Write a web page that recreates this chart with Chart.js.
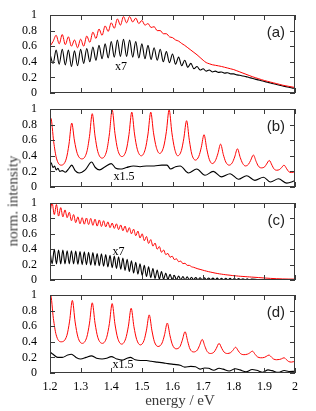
<!DOCTYPE html>
<html>
<head>
<meta charset="utf-8">
<script src="https://cdn.jsdelivr.net/npm/chart.js@4.4.1/dist/chart.umd.min.js"></script>
<style>
    html, body { margin: 0; padding: 0; background: #fff; }
    #figure { position: relative; width: 316px; height: 411px; overflow: hidden; }
    #figure canvas { position: absolute; left: 0; }
    .axis-title {
        position: absolute; font: 400 15px 'Liberation Serif', serif; color: #3a3a3a; white-space: nowrap;
    }
    #y-title { left: 13px; top: 201px; transform: translate(-50%, -50%) rotate(-90deg); }
    #x-title { left: 180px; top: 400px; transform: translate(-50%, -50%); }
</style>
</head>
<body>
<div id="figure">
    <canvas id="panel-a" width="316" height="103" style="top:0px"></canvas>
    <canvas id="panel-b" width="316" height="98" style="top:99px"></canvas>
    <canvas id="panel-c" width="316" height="97" style="top:193px"></canvas>
    <canvas id="panel-d" width="316" height="126" style="top:285px"></canvas>
    <div id="y-title" class="axis-title">norm. intensity</div>
    <div id="x-title" class="axis-title">energy / eV</div>
</div>
<script>
// ====== DATA ======
// panel (a)
const aEnergy = [
    1.20, 1.21, 1.22, 1.23, 1.24, 1.25, 1.26, 1.27, 1.28, 1.29,
    1.30, 1.31, 1.32, 1.33, 1.34, 1.35, 1.36, 1.37, 1.38, 1.39,
    1.40, 1.41, 1.42, 1.43, 1.44, 1.45, 1.46, 1.47, 1.48, 1.49,
    1.50, 1.51, 1.52, 1.53, 1.54, 1.55, 1.56, 1.57, 1.58, 1.59,
    1.60, 1.61, 1.62, 1.63, 1.64, 1.65, 1.66, 1.67, 1.68, 1.69,
    1.70, 1.71, 1.72, 1.73, 1.74, 1.75, 1.76, 1.77, 1.78, 1.79,
    1.80, 1.81, 1.82, 1.83, 1.84, 1.85, 1.86, 1.87, 1.88, 1.89,
    1.90, 1.91, 1.92, 1.93, 1.94, 1.95, 1.96, 1.97, 1.98, 1.99,
    2.00
];
const aRed = [
    0.60, 0.66, 0.74, 0.63, 0.75, 0.62, 0.72, 0.60, 0.68, 0.58,
    0.69, 0.60, 0.73, 0.65, 0.78, 0.70, 0.82, 0.74, 0.86, 0.79,
    0.90, 0.83, 0.95, 0.87, 0.98, 0.90, 0.98, 0.91, 0.96, 0.89,
    0.93, 0.87, 0.89, 0.84, 0.85, 0.80, 0.80, 0.76, 0.76, 0.72,
    0.71, 0.68, 0.665, 0.635, 0.61, 0.58, 0.55, 0.52, 0.49, 0.455,
    0.42, 0.39, 0.375, 0.362, 0.355, 0.348, 0.34, 0.33, 0.32, 0.31,
    0.30, 0.285, 0.27, 0.255, 0.24, 0.225, 0.21, 0.197, 0.185, 0.172,
    0.16, 0.15, 0.14, 0.13, 0.12, 0.11, 0.10, 0.092, 0.085, 0.078,
    0.07
];
const aBlack = [
    0.50, 0.38, 0.55, 0.37, 0.56, 0.36, 0.55, 0.34, 0.54, 0.35,
    0.56, 0.38, 0.57, 0.40, 0.59, 0.42, 0.61, 0.44, 0.63, 0.45,
    0.66, 0.46, 0.68, 0.47, 0.69, 0.47, 0.68, 0.46, 0.66, 0.45,
    0.63, 0.44, 0.61, 0.43, 0.58, 0.42, 0.56, 0.40, 0.53, 0.39,
    0.50, 0.37, 0.46, 0.35, 0.42, 0.33, 0.38, 0.31, 0.34, 0.295,
    0.31, 0.28, 0.295, 0.27, 0.28, 0.265, 0.27, 0.255, 0.26, 0.245,
    0.245, 0.232, 0.228, 0.218, 0.21, 0.198, 0.19, 0.178, 0.168, 0.158,
    0.148, 0.138, 0.128, 0.118, 0.108, 0.099, 0.09, 0.082, 0.074, 0.066,
    0.06
];

// panel (b)
const bRedEnergy = [
    1.200, 1.203, 1.212, 1.221, 1.236, 1.253, 1.262, 1.271, 1.280, 1.289,
    1.304, 1.320, 1.329, 1.338, 1.347, 1.356, 1.370, 1.385, 1.394, 1.403,
    1.412, 1.421, 1.435, 1.449, 1.458, 1.467, 1.476, 1.485, 1.498, 1.511,
    1.520, 1.529, 1.538, 1.547, 1.558, 1.571, 1.580, 1.589, 1.598, 1.607,
    1.617, 1.629, 1.637, 1.646, 1.655, 1.663, 1.675, 1.686, 1.694, 1.703,
    1.712, 1.720, 1.730, 1.740, 1.748, 1.757, 1.766, 1.774, 1.785, 1.795,
    1.803, 1.812, 1.821, 1.829, 1.838, 1.848, 1.855, 1.864, 1.873, 1.880,
    1.890, 1.901, 1.907, 1.916, 1.925, 1.931, 1.940, 1.950, 1.956, 1.964,
    1.973, 1.979, 1.988, 2.000
];
const bRed = [
    0.78, 0.88, 0.58, 0.37, 0.28, 0.36, 0.55, 0.82, 0.59, 0.43,
    0.36, 0.447, 0.65, 0.94, 0.655, 0.455, 0.37, 0.463, 0.68, 0.99,
    0.69, 0.48, 0.39, 0.475, 0.675, 0.96, 0.68, 0.484, 0.40, 0.484,
    0.68, 0.96, 0.695, 0.51, 0.43, 0.514, 0.71, 0.99, 0.695, 0.489,
    0.40, 0.468, 0.625, 0.85, 0.598, 0.421, 0.345, 0.394, 0.508, 0.67,
    0.485, 0.355, 0.30, 0.338, 0.425, 0.55, 0.415, 0.32, 0.28, 0.31,
    0.385, 0.49, 0.38, 0.303, 0.27, 0.291, 0.34, 0.41, 0.328, 0.27,
    0.245, 0.259, 0.293, 0.34, 0.278, 0.234, 0.215, 0.225, 0.248, 0.28,
    0.233, 0.199, 0.185, 0.195
];
const bBlackEnergy = [
    1.200, 1.205, 1.210, 1.215, 1.220, 1.226, 1.232, 1.240, 1.250, 1.262,
    1.271, 1.282, 1.295, 1.315, 1.336, 1.348, 1.362, 1.380, 1.400, 1.415,
    1.430, 1.450, 1.472, 1.494, 1.515, 1.540, 1.565, 1.582, 1.594, 1.610,
    1.625, 1.652, 1.679, 1.706, 1.733, 1.760, 1.788, 1.815, 1.842, 1.869,
    1.897, 1.920, 1.946, 1.973, 2.000
];
const bBlack = [
    0.33, 0.30, 0.25, 0.27, 0.22, 0.24, 0.20, 0.21, 0.19, 0.24,
    0.28, 0.21, 0.18, 0.22, 0.32, 0.25, 0.22, 0.26, 0.30, 0.24,
    0.23, 0.25, 0.27, 0.26, 0.27, 0.27, 0.28, 0.28, 0.23, 0.26,
    0.27, 0.18, 0.23, 0.15, 0.20, 0.13, 0.17, 0.10, 0.145, 0.085,
    0.125, 0.065, 0.105, 0.05, 0.08
];

// panel (c)
const cEnergy = [
    1.200, 1.207, 1.214, 1.221, 1.228, 1.235, 1.242, 1.249, 1.256, 1.263,
    1.270, 1.277, 1.284, 1.291, 1.298, 1.305, 1.312, 1.319, 1.326, 1.333,
    1.340, 1.347, 1.354, 1.361, 1.368, 1.375, 1.382, 1.389, 1.396, 1.403,
    1.410, 1.417, 1.424, 1.431, 1.438, 1.445, 1.452, 1.459, 1.466, 1.473,
    1.480, 1.487, 1.494, 1.501, 1.508, 1.515, 1.522, 1.529, 1.536, 1.543,
    1.550, 1.557, 1.564, 1.571, 1.578, 1.585, 1.592, 1.599, 1.606, 1.613,
    1.620, 1.627, 1.634, 1.641, 1.648, 1.655, 1.662, 1.669, 1.676, 1.683,
    1.690, 1.697, 1.704, 1.711, 1.718, 1.725, 1.732, 1.739, 1.746, 1.753,
    1.760, 1.767, 1.774, 1.781, 1.788, 1.795, 1.802, 1.809, 1.816, 1.823,
    1.830, 1.837, 1.844, 1.851, 1.858, 1.880, 1.900, 1.920, 1.940, 1.960,
    1.980, 2.000
];
const cRed = [
    0.88, 1.00, 0.85, 0.98, 0.83, 0.94, 0.82, 0.91, 0.81, 0.88,
    0.77, 0.85, 0.745, 0.82, 0.73, 0.81, 0.725, 0.805, 0.72, 0.80,
    0.71, 0.79, 0.70, 0.78, 0.695, 0.77, 0.69, 0.755, 0.68, 0.74,
    0.67, 0.73, 0.655, 0.715, 0.64, 0.70, 0.62, 0.68, 0.60, 0.66,
    0.575, 0.635, 0.545, 0.60, 0.51, 0.565, 0.475, 0.525, 0.44, 0.48,
    0.40, 0.435, 0.36, 0.39, 0.33, 0.345, 0.295, 0.31, 0.265, 0.275,
    0.238, 0.245, 0.212, 0.218, 0.19, 0.19, 0.172, 0.165, 0.155, 0.145,
    0.138, 0.13, 0.122, 0.115, 0.108, 0.102, 0.096, 0.09, 0.085, 0.08,
    0.076, 0.072, 0.068, 0.065, 0.062, 0.058, 0.055, 0.053, 0.05, 0.048,
    0.046, 0.044, 0.042, 0.04, 0.038, 0.032, 0.026, 0.021, 0.017, 0.014,
    0.012, 0.011
];
const cBlack = [
    0.37, 0.21, 0.40, 0.21, 0.39, 0.21, 0.39, 0.21, 0.38, 0.21,
    0.38, 0.21, 0.375, 0.205, 0.37, 0.20, 0.365, 0.20, 0.36, 0.195,
    0.355, 0.19, 0.345, 0.185, 0.34, 0.18, 0.33, 0.17, 0.32, 0.16,
    0.31, 0.15, 0.30, 0.14, 0.285, 0.125, 0.27, 0.11, 0.25, 0.09,
    0.23, 0.075, 0.21, 0.06, 0.19, 0.045, 0.17, 0.03, 0.15, 0.02,
    0.13, 0.012, 0.11, 0.008, 0.09, 0.005, 0.075, 0.004, 0.062, 0.003,
    0.052, 0.003, 0.045, 0.002, 0.04, 0.002, 0.036, 0.002, 0.033, 0.002,
    0.03, 0.002, 0.028, 0.002, 0.026, 0.002, 0.025, 0.002, 0.024, 0.002,
    0.023, 0.002, 0.022, 0.002, 0.021, 0.002, 0.02, 0.002, 0.018, 0.002,
    0.016, 0.002, 0.014, 0.002, 0.012, 0.006, 0.005, 0.004, 0.004, 0.003,
    0.003, 0.003
];

// panel (d)
const dRedEnergy = [
    1.200, 1.202, 1.211, 1.220, 1.236, 1.255, 1.264, 1.273, 1.282, 1.291,
    1.305, 1.320, 1.329, 1.338, 1.347, 1.356, 1.371, 1.385, 1.394, 1.403,
    1.412, 1.421, 1.434, 1.447, 1.456, 1.465, 1.474, 1.483, 1.495, 1.507,
    1.515, 1.524, 1.533, 1.541, 1.553, 1.566, 1.574, 1.583, 1.592, 1.600,
    1.612, 1.625, 1.632, 1.641, 1.650, 1.657, 1.669, 1.681, 1.688, 1.697,
    1.706, 1.713, 1.724, 1.736, 1.743, 1.752, 1.761, 1.768, 1.779, 1.790,
    1.797, 1.806, 1.815, 1.822, 1.833, 1.845, 1.852, 1.861, 1.870, 1.877,
    1.888, 1.900, 1.906, 1.915, 1.924, 1.930, 1.940, 1.950, 1.956, 1.964,
    1.973, 1.979, 1.988, 2.000
];
const dRed = [
    0.95, 1.00, 0.70, 0.49, 0.40, 0.48, 0.665, 0.93, 0.655, 0.463,
    0.38, 0.458, 0.64, 0.90, 0.64, 0.458, 0.38, 0.457, 0.635, 0.89,
    0.63, 0.448, 0.37, 0.439, 0.60, 0.83, 0.595, 0.43, 0.36, 0.418,
    0.55, 0.745, 0.54, 0.40, 0.34, 0.385, 0.49, 0.64, 0.475, 0.36,
    0.31, 0.343, 0.42, 0.53, 0.40, 0.309, 0.27, 0.294, 0.35, 0.43,
    0.34, 0.277, 0.25, 0.27, 0.315, 0.38, 0.315, 0.27, 0.25, 0.262,
    0.29, 0.33, 0.283, 0.249, 0.235, 0.242, 0.257, 0.28, 0.238, 0.208,
    0.195, 0.20, 0.212, 0.23, 0.20, 0.179, 0.17, 0.174, 0.182, 0.195,
    0.168, 0.148, 0.14, 0.15
];
const dBlackEnergy = [
    1.200, 1.210, 1.225, 1.240, 1.258, 1.270, 1.285, 1.300, 1.318, 1.335,
    1.352, 1.370, 1.385, 1.400, 1.418, 1.435, 1.450, 1.462, 1.478, 1.495,
    1.515, 1.530, 1.550, 1.570, 1.585, 1.605, 1.625, 1.640, 1.660, 1.675,
    1.690, 1.705, 1.718, 1.735, 1.752, 1.765, 1.785, 1.805, 1.820, 1.840,
    1.860, 1.875, 1.895, 1.912, 1.925, 1.945, 1.965, 1.980, 2.000
];
const dBlack = [
    0.27, 0.24, 0.20, 0.20, 0.23, 0.24, 0.20, 0.18, 0.20, 0.22,
    0.19, 0.18, 0.19, 0.21, 0.18, 0.165, 0.185, 0.20, 0.17, 0.16,
    0.16, 0.15, 0.14, 0.13, 0.12, 0.11, 0.10, 0.075, 0.085, 0.08,
    0.05, 0.065, 0.06, 0.035, 0.06, 0.05, 0.025, 0.055, 0.04, 0.015,
    0.045, 0.035, 0.01, 0.04, 0.03, 0.008, 0.032, 0.02, 0.022
];

const energyMin = 1.2, energyMax = 2.0, energyStep = 0.1;
const intensityMin = 0, intensityMax = 1, intensityStep = 0.2;

// ====== HELPERS ======
const pairUp = (xs, ys) => xs.map((x, i) => ({ x: x, y: ys[i] }));
const tickText = v => String(+v.toFixed(1)); // 1.2 ... 2, 0 ... 1

// frame box with inward ticks on all four sides, plus panel texts
const framePlugin = {
    id: 'frameBox',
    afterDatasetsDraw(chart, args, opts) {
        const { ctx, chartArea: a, scales: { x, y } } = chart;
        ctx.save();
        ctx.strokeStyle = '#3a3a3a';
        ctx.lineWidth = 1;
        ctx.beginPath();
        x.ticks.forEach(t => {
            const px = Math.round(x.getPixelForValue(t.value)) + 0.5;
            ctx.moveTo(px, a.bottom); ctx.lineTo(px, a.bottom - 5);
            ctx.moveTo(px, a.top); ctx.lineTo(px, a.top + 5);
        });
        y.ticks.forEach(t => {
            const py = Math.round(y.getPixelForValue(t.value)) + 0.5;
            ctx.moveTo(a.left, py); ctx.lineTo(a.left + 5, py);
            ctx.moveTo(a.right, py); ctx.lineTo(a.right - 5, py);
        });
        ctx.stroke();
        ctx.strokeRect(a.left + 0.5, a.top + 0.5, a.right - a.left - 1, a.bottom - a.top - 1);

        // panel letter
        ctx.fillStyle = '#222';
        ctx.font = '15px "Liberation Sans", sans-serif';
        ctx.textAlign = 'right';
        ctx.textBaseline = 'middle';
        ctx.fillText(opts.letter, a.right - 10, y.getPixelForValue(0.77));

        // scale factor note
        ctx.fillStyle = '#000';
        ctx.font = '12px "Liberation Serif", serif';
        ctx.textAlign = 'center';
        ctx.fillText(opts.note, x.getPixelForValue(opts.noteX), y.getPixelForValue(opts.noteY));
        ctx.restore();
    }
};

function makePanel(id, redPts, blackPts, panelOpts, last) {
    const ctx = document.getElementById(id);
    if (!ctx) return;
    new Chart(ctx, {
        type: 'line',
        data: {
            datasets: [
                {
                    data: redPts,
                    borderColor: '#ff0000',
                    borderWidth: 1,
                    pointRadius: 0,
                    cubicInterpolationMode: 'monotone'
                },
                {
                    data: blackPts,
                    borderColor: '#000000',
                    borderWidth: 1.1,
                    pointRadius: 0,
                    cubicInterpolationMode: 'monotone'
                }
            ]
        },
        options: {
            responsive: false,
            animation: false,
            devicePixelRatio: 1,
            layout: { padding: { top: panelOpts.padTop, right: 21, bottom: last ? 0 : 10, left: 0 } },
            plugins: {
                legend: { display: false },
                tooltip: { enabled: false },
                frameBox: panelOpts
            },
            scales: {
                x: {
                    type: 'linear',
                    min: energyMin,
                    max: energyMax,
                    ticks: {
                        display: last,
                        stepSize: energyStep,
                        autoSkip: false,
                        maxRotation: 0,
                        padding: 7,
                        color: '#000',
                        font: { family: 'Liberation Serif', size: 12 },
                        callback: tickText
                    },
                    grid: { display: false, drawTicks: false },
                    border: { display: false },
                    afterFit: s => { s.height = last ? 38 : 0; }
                },
                y: {
                    min: intensityMin,
                    max: intensityMax,
                    ticks: {
                        stepSize: intensityStep,
                        autoSkip: false,
                        padding: 13,
                        color: '#000',
                        font: { family: 'Liberation Serif', size: 12 },
                        callback: tickText
                    },
                    grid: { display: false, drawTicks: false },
                    border: { display: false },
                    // tick padding would otherwise be added above/below the plot
                    afterFit: s => { s.width = 50; s.paddingTop = 0; s.paddingBottom = 0; }
                }
            }
        },
        plugins: [framePlugin]
    });
}

makePanel('panel-a', pairUp(aEnergy, aRed), pairUp(aEnergy, aBlack),
    { letter: '(a)', note: 'x7', noteX: 1.432, noteY: 0.33, padTop: 15 }, false);
makePanel('panel-b', pairUp(bRedEnergy, bRed), pairUp(bBlackEnergy, bBlack),
    { letter: '(b)', note: 'x1.5', noteX: 1.442, noteY: 0.13, padTop: 10 }, false);
makePanel('panel-c', pairUp(cEnergy, cRed), pairUp(cEnergy, cBlack),
    { letter: '(c)', note: 'x7', noteX: 1.424, noteY: 0.36, padTop: 10 }, false);
makePanel('panel-d', pairUp(dRedEnergy, dRed), pairUp(dBlackEnergy, dBlack),
    { letter: '(d)', note: 'x1.5', noteX: 1.438, noteY: 0.10, padTop: 10 }, true);
</script>
</body>
</html>
